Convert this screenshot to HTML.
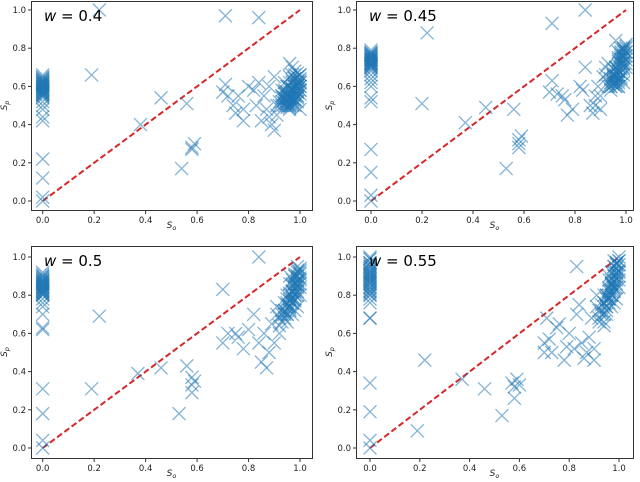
<!DOCTYPE html>
<html><head><meta charset="utf-8"><style>
html,body{margin:0;padding:0;background:#fff;width:640px;height:482px;overflow:hidden}
svg{display:block}
text{font-family:"DejaVu Sans","Liberation Sans",sans-serif}
</style></head><body>
<svg id="fig" width="640" height="482"></svg>
<script>
// Panel data (So, Sp)
const xA=[0,0,0,0,0,0,0,0,0,0,0,0,0,0,0,0,0,0,0,0,0,0,0.22,0.19,0.71,0.84,0.38,0.46,0.56,0.54,0.58,0.59,0.58,0.70,0.71,0.72,0.74,0.75,0.76,0.78,0.78,0.80,0.82,0.83,0.84,0.85,0.86,0.87,0.88,0.88,0.89,0.90,0.90,0.91,0.92,0.93,0.94,0.95,0.96,0.95,0.93,0.94,0.95,0.96,0.97,0.98,0.99,1.0,0.96,0.97,0.98,0.99,1.0,0.97,0.98,0.99,1.0,0.95,0.96,0.97,0.98,0.99,0.94,0.96,0.98,1.0,0.97,0.99,
 0,0,0,0,0,0,0,0,0,0,0,0,0.93,0.93,0.93,0.95,0.95,0.95,0.95,0.97,0.97,0.97,0.97,0.97,0.99,0.99,0.99,0.99,0.99,1.0,1.0,1.0,0.96,0.98,0.94,0.92,0.91,0.98,0.96,1.0,
 0,0,0,0,0,0,0,0,0,0,0.94,0.94,0.94,0.95,0.95,0.96,0.96,0.96,0.96,0.97,0.97,0.97,0.98,0.98,0.98,0.98,0.99,0.99,0.99,1.0,1.0,1.0,0.95,0.97,0.99,0.98,0.96,0.94,0.93,1.0];
const yA=[0.0,0.02,0.12,0.22,0.42,0.44,0.48,0.5,0.52,0.54,0.55,0.56,0.57,0.58,0.59,0.6,0.61,0.62,0.63,0.64,0.65,0.66,1.0,0.66,0.97,0.96,0.4,0.54,0.51,0.17,0.27,0.3,0.28,0.57,0.61,0.55,0.5,0.46,0.55,0.42,0.48,0.6,0.58,0.5,0.62,0.42,0.55,0.48,0.6,0.44,0.4,0.37,0.65,0.45,0.5,0.55,0.62,0.5,0.72,0.56,0.52,0.5,0.53,0.5,0.52,0.55,0.6,0.63,0.55,0.58,0.6,0.62,0.66,0.62,0.64,0.67,0.58,0.6,0.62,0.66,0.68,0.55,0.58,0.5,0.53,0.48,0.7,0.57,
 0.55,0.56,0.57,0.58,0.59,0.6,0.61,0.62,0.63,0.57,0.59,0.61,0.5,0.54,0.58,0.49,0.52,0.55,0.6,0.5,0.53,0.56,0.59,0.63,0.52,0.55,0.58,0.61,0.65,0.56,0.6,0.64,0.48,0.52,0.53,0.52,0.5,0.66,0.65,0.6,
 0.555,0.565,0.575,0.585,0.595,0.605,0.615,0.625,0.635,0.645,0.51,0.54,0.57,0.51,0.57,0.51,0.54,0.57,0.6,0.51,0.54,0.58,0.53,0.57,0.6,0.64,0.54,0.57,0.6,0.58,0.62,0.66,0.54,0.58,0.63,0.5,0.49,0.56,0.55,0.62];
const xB=[0,0,0,0,0,0,0,0,0,0,0,0,0,0,0,0,0,0,0,0,0,0.22,0.20,0.71,0.84,0.37,0.45,0.53,0.56,0.58,0.58,0.59,0.58,0.70,0.71,0.73,0.75,0.76,0.77,0.79,0.82,0.83,0.84,0.86,0.87,0.88,0.89,0.90,0.91,0.92,0.93,0.94,0.95,0.96,0.97,0.98,0.99,1.0,0.95,0.96,0.97,0.98,0.99,1.0,0.94,0.96,0.97,0.98,0.99,1.0,0.97,0.98,0.99,0.96,0.93,0.95,
 0,0,0,0,0,0,0,0,0,0,0,0.94,0.94,0.95,0.95,0.96,0.96,0.96,0.97,0.97,0.97,0.98,0.98,0.98,0.99,0.99,0.99,1.0,1.0,1.0,0.93,0.95,0.97,0.99,0.92,0.96,0.98,1.0,0.9,0.88,
 0,0,0,0,0,0,0,0,0.95,0.95,0.96,0.96,0.97,0.97,0.97,0.98,0.98,0.98,0.99,0.99,0.99,1.0,1.0,0.96,0.97,0.98,0.99,0.94,0.95,0.97];
const yB=[0.0,0.03,0.15,0.27,0.52,0.54,0.6,0.62,0.64,0.66,0.68,0.7,0.71,0.72,0.73,0.74,0.75,0.76,0.77,0.78,0.79,0.88,0.51,0.93,1.0,0.41,0.49,0.17,0.48,0.3,0.32,0.34,0.28,0.57,0.63,0.56,0.55,0.53,0.45,0.48,0.6,0.58,0.7,0.5,0.46,0.55,0.6,0.48,0.65,0.7,0.62,0.6,0.65,0.7,0.75,0.78,0.8,0.82,0.62,0.66,0.68,0.72,0.76,0.8,0.58,0.6,0.63,0.65,0.7,0.74,0.78,0.8,0.72,0.84,0.72,0.69,
 0.69,0.7,0.71,0.72,0.73,0.74,0.75,0.76,0.77,0.72,0.74,0.6,0.64,0.61,0.66,0.6,0.63,0.68,0.62,0.66,0.71,0.64,0.69,0.74,0.66,0.72,0.78,0.7,0.76,0.81,0.6,0.64,0.6,0.62,0.66,0.7,0.75,0.78,0.55,0.5,
 0.705,0.715,0.725,0.735,0.745,0.755,0.765,0.775,0.63,0.67,0.62,0.65,0.64,0.68,0.74,0.67,0.72,0.77,0.69,0.75,0.8,0.72,0.78,0.7,0.73,0.76,0.79,0.62,0.66,0.6];
const xC=[0,0,0,0,0,0,0,0,0,0,0,0,0,0,0,0,0,0,0,0,0,0,0,0.19,0.22,0.37,0.46,0.53,0.56,0.58,0.58,0.58,0.59,0.70,0.84,0.70,0.72,0.75,0.76,0.78,0.80,0.82,0.84,0.85,0.86,0.87,0.88,0.89,0.90,0.91,0.92,0.93,0.94,0.95,0.96,0.97,0.98,0.99,1.0,0.93,0.95,0.96,0.97,0.98,0.99,1.0,0.94,0.96,0.97,0.98,0.99,1.0,0.95,0.97,0.98,0.99,0.92,0.96,
 0,0,0,0,0,0,0,0,0,0,0,0.94,0.95,0.95,0.96,0.96,0.97,0.97,0.97,0.98,0.98,0.98,0.99,0.99,0.99,1.0,1.0,1.0,0.93,0.94,0.96,0.98,1.0,0.97,0.99,0.95,0.92,0.91,
 0,0,0,0,0,0,0,0,0.96,0.96,0.97,0.97,0.98,0.98,0.98,0.99,0.99,0.99,1.0,1.0,0.95,0.97,0.99,0.94,0.96,0.98];
const yC=[0.0,0.04,0.18,0.31,0.62,0.63,0.7,0.74,0.76,0.78,0.8,0.81,0.82,0.83,0.84,0.85,0.86,0.87,0.88,0.89,0.9,0.91,0.92,0.31,0.69,0.39,0.42,0.18,0.43,0.37,0.33,0.29,0.35,0.83,1.0,0.55,0.6,0.6,0.58,0.52,0.62,0.7,0.55,0.45,0.6,0.42,0.5,0.65,0.55,0.74,0.68,0.72,0.7,0.75,0.78,0.82,0.86,0.9,0.92,0.66,0.7,0.74,0.78,0.82,0.85,0.88,0.68,0.72,0.76,0.8,0.84,0.94,0.8,0.86,0.9,0.95,0.6,0.9,
 0.8,0.81,0.82,0.83,0.84,0.85,0.86,0.87,0.88,0.89,0.9,0.72,0.7,0.76,0.73,0.8,0.76,0.82,0.88,0.78,0.84,0.9,0.8,0.86,0.92,0.84,0.89,0.93,0.7,0.76,0.86,0.72,0.8,0.7,0.74,0.66,0.64,0.7,
 0.805,0.815,0.825,0.835,0.845,0.855,0.865,0.875,0.77,0.81,0.79,0.85,0.8,0.86,0.91,0.82,0.88,0.93,0.86,0.91,0.78,0.82,0.87,0.72,0.74,0.77];
const xD=[0,0,0,0,0,0,0,0,0,0,0,0,0,0,0,0,0,0,0,0,0,0,0,0.19,0.22,0.37,0.46,0.53,0.57,0.58,0.59,0.58,0.60,0.83,0.70,0.70,0.71,0.72,0.73,0.75,0.76,0.78,0.79,0.80,0.82,0.83,0.84,0.85,0.86,0.87,0.88,0.89,0.90,0.90,0.91,0.92,0.93,0.94,0.95,0.96,0.97,0.98,0.99,1.0,0.94,0.95,0.96,0.97,0.98,0.99,1.0,0.93,0.95,0.96,0.97,0.98,0.99,1.0,0.96,0.98,0.92,0.94,
 0,0,0,0,0,0,0,0,0,0,0,0.94,0.95,0.95,0.96,0.96,0.97,0.97,0.97,0.98,0.98,0.98,0.99,0.99,0.99,1.0,1.0,1.0,0.93,0.94,0.96,0.98,1.0,0.97,0.99,0.95,0.92,0.91,
 0,0,0,0,0,0,0,0,0.96,0.96,0.97,0.97,0.98,0.98,0.98,0.99,0.99,0.99,1.0,1.0,0.95,0.97,0.99,0.94,0.96,0.98];
const yD=[0.0,0.04,0.19,0.34,0.68,0.68,0.76,0.78,0.8,0.82,0.84,0.86,0.87,0.88,0.89,0.9,0.91,0.92,0.94,0.95,0.97,0.99,1.0,0.09,0.46,0.36,0.31,0.17,0.34,0.26,0.36,0.32,0.33,0.95,0.5,0.55,0.68,0.57,0.5,0.63,0.65,0.46,0.53,0.6,0.52,0.7,0.75,0.55,0.47,0.5,0.58,0.68,0.46,0.52,0.8,0.72,0.75,0.7,0.78,0.82,0.86,0.9,0.94,0.98,0.66,0.72,0.76,0.8,0.84,0.88,0.92,0.7,0.74,0.78,0.85,0.92,0.96,1.0,0.88,0.98,0.66,0.64,
 0.8,0.82,0.84,0.86,0.88,0.9,0.92,0.93,0.95,0.97,0.99,0.76,0.74,0.8,0.78,0.84,0.8,0.86,0.92,0.82,0.88,0.95,0.84,0.9,0.97,0.88,0.93,0.98,0.72,0.8,0.9,0.76,0.84,0.74,0.78,0.7,0.68,0.74,
 0.81,0.83,0.85,0.87,0.89,0.91,0.93,0.96,0.78,0.83,0.82,0.88,0.84,0.9,0.95,0.86,0.92,0.97,0.9,0.96,0.8,0.86,0.92,0.76,0.8,0.83];
const panelLabels=["0.4","0.45","0.5","0.55"];
const xTicks=[0,0.2,0.4,0.6,0.8,1.0];
const yTicks=[0,0.2,0.4,0.6,0.8,1.0];

const NS="http://www.w3.org/2000/svg";
const fig=document.getElementById('fig');
function mk(tag,attrs,parent){const e=document.createElementNS(NS,tag);for(const k in attrs)e.setAttribute(k,attrs[k]);(parent||fig).appendChild(e);return e;}
const panels=[
 {fx0:31,fx1:312,fy0:1,fy1:210,x0:42.7,x1:300,y0:201,y1:10,xs:xA,ys:yA},
 {fx0:356,fx1:633,fy0:1,fy1:210,x0:371,x1:626,y0:201,y1:10,xs:xB,ys:yB},
 {fx0:31,fx1:312,fy0:246,fy1:458,x0:42.7,x1:300,y0:448,y1:257,xs:xC,ys:yC},
 {fx0:356,fx1:633,fy0:246,fy1:458,x0:370,x1:619,y0:448,y1:257,xs:xD,ys:yD}
];
panels.forEach((p,i)=>{
 const g=mk('g',{});
 
 
 const sx=v=>p.x0+v*(p.x1-p.x0), sy=v=>p.y0+v*(p.y1-p.y0);
 const d=mk('line',{x1:sx(0),y1:sy(0),x2:sx(1),y2:sy(1),stroke:'#d62728','stroke-width':2,'stroke-dasharray':'6,3'},g);
 
 
 const s=6.5;
 for(let k=0;k<p.xs.length;k++){
  const cx=sx(p.xs[k]),cy=sy(p.ys[k]);
  const m=mk('path',{d:`M${cx-s},${cy-s}L${cx+s},${cy+s}M${cx-s},${cy+s}L${cx+s},${cy-s}`,stroke:'rgba(31,119,180,0.55)','stroke-width':1.3,fill:'none'},g);
  
  
 }
 const f=mk('rect',{x:p.fx0+0.5,y:p.fy0+0.5,width:p.fx1-p.fx0,height:p.fy1-p.fy0,fill:'none',stroke:'#333','stroke-width':1},g);
 
 
 xTicks.forEach(t=>{
  mk('line',{x1:sx(t),x2:sx(t),y1:p.fy1+0.5,y2:p.fy1+4,stroke:'#333'},g);
  const tx=mk('text',{x:sx(t),y:p.fy1+13,'font-size':8.5,'text-anchor':'middle',fill:'#222'},g);
  tx.textContent=t.toFixed(1);
  
  
 });
 yTicks.forEach(t=>{
  mk('line',{x1:p.fx0+0.5,x2:p.fx0-3,y1:sy(t),y2:sy(t),stroke:'#333'},g);
  const ty=mk('text',{x:p.fx0-5,y:sy(t)+3,'font-size':8.5,'text-anchor':'end',fill:'#222'},g);
  ty.textContent=t.toFixed(1);
  
  
 });
 const xl=mk('text',{x:(p.fx0+p.fx1)/2,y:p.fy1+18,'font-size':9,'text-anchor':'middle','font-style':'italic',fill:'#222'},g);
 xl.innerHTML='S<tspan font-size="6.5" dy="2">o</tspan>';
 
 
 const yl=mk('text',{x:0,y:0,'font-size':9,'text-anchor':'middle','font-style':'italic',fill:'#222',transform:`translate(${p.fx0-24},${(p.fy0+p.fy1)/2}) rotate(-90)`},g);
 yl.innerHTML='S<tspan font-size="6.5" dy="2">p</tspan>';
 
 
 const ti=mk('text',{x:p.fx0+13,y:p.fy0+20,'font-size':15,fill:'#000'},g);
 ti.innerHTML='<tspan font-style="italic">w</tspan> = '+panelLabels[i];
 
 
});
</script>
</body></html>
